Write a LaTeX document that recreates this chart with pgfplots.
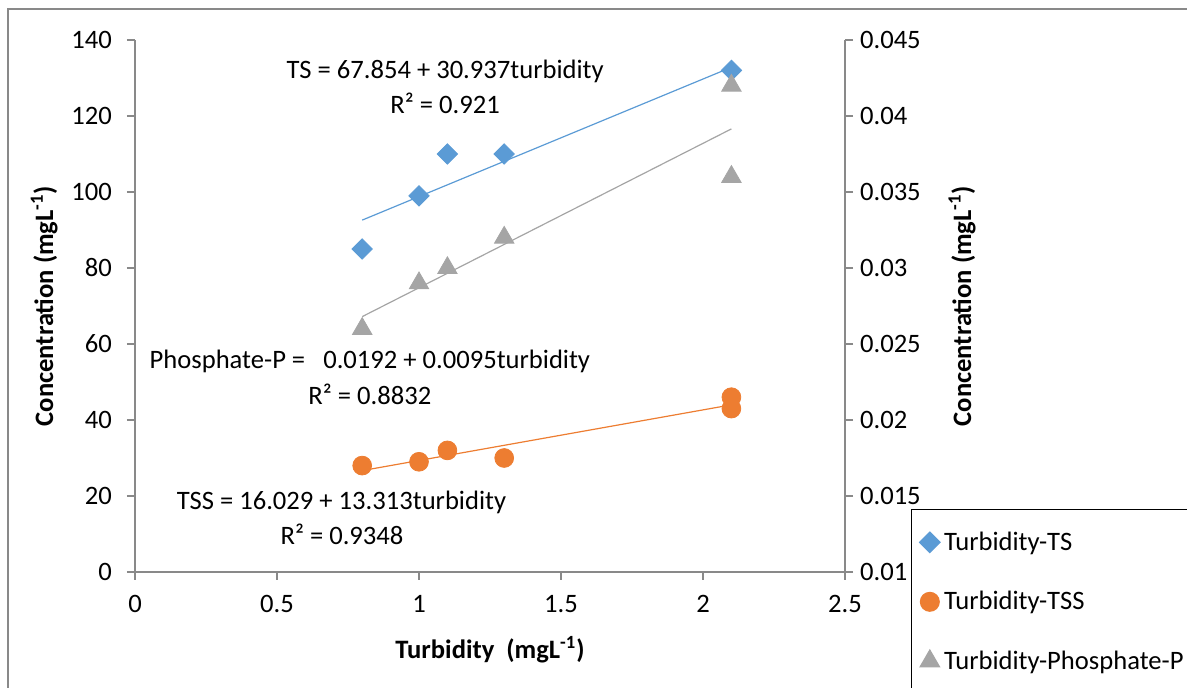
\documentclass[border=0pt]{standalone}
\usepackage{fontspec}
\setmainfont{Carlito}
\usepackage{pgfplots}
\pgfplotsset{compat=1.18}
\definecolor{tsblue}{HTML}{5B9BD5}
\definecolor{tssorange}{HTML}{ED7D31}
\definecolor{phgray}{HTML}{A5A5A5}
\definecolor{axgray}{HTML}{898989}
\newcommand{\fs}{\fontsize{13.3}{16}\selectfont}
\begin{document}
\begin{tikzpicture}
\draw[axgray, line width=0.6pt] (4pt,-30pt) rectangle (640pt,339.5pt);
\pgfplotsset{
  common/.style={
    scale only axis, width=355pt, height=266pt,
    at={(67.5pt,58pt)}, anchor=south west,
    xmin=0, xmax=2.5,
    tick align=outside, major tick length=4pt,
    every tick/.style={axgray, line width=0.6pt},
    axis line style={axgray, line width=0.6pt},
    tick label style={font=\fs, black},
    label style={font=\fs\bfseries},
    /pgf/number format/assume math mode=true,
  }
}
\begin{axis}[common,
  axis x line*=bottom, axis y line*=left,
  ymin=0, ymax=140, ytick={0,20,...,140},
  xtick={0,0.5,1,1.5,2,2.5},
  xlabel={Turbidity\ \ (mgL\textsuperscript{-1})},
  ylabel={Concentration (mgL\textsuperscript{-1})},
  xlabel style={yshift=-5pt},
  ylabel style={yshift=0pt},
  xticklabel style={yshift=-4pt},
  yticklabel style={xshift=-4pt},
]
\addplot[only marks, mark=square*, mark options={rotate=45, fill=tsblue, draw=tsblue}, mark size=3.6pt]
  coordinates {(0.8,85) (1.0,99) (1.1,110) (1.3,110) (2.1,132)};
\addplot[tsblue, line width=0.6pt, no marks] coordinates {(0.8,92.60) (2.1,132.82)};
\addplot[only marks, mark=*, mark options={fill=tssorange, draw=tssorange}, mark size=4.7pt]
  coordinates {(0.8,28) (1.0,29) (1.1,32) (1.3,30) (2.1,46) (2.1,43)};
\addplot[tssorange, line width=0.6pt, no marks] coordinates {(0.8,26.68) (2.1,43.99)};
\node[font=\fs] at (axis cs:1.092,131.6) {TS = 67.854 + 30.937turbidity};
\node[font=\fs] at (axis cs:1.092,123.2) {R² = 0.921};
\node[font=\fs] at (axis cs:0.827,55.3) {Phosphate-P =\ \ \ 0.0192 + 0.0095turbidity};
\node[font=\fs] at (axis cs:0.827,46.8) {R² = 0.8832};
\node[font=\fs] at (axis cs:0.727,18.4) {TSS = 16.029 + 13.313turbidity};
\node[font=\fs] at (axis cs:0.729,10.0) {R² = 0.9348};
\end{axis}
\begin{axis}[common,
  axis x line=none, axis y line*=right,
  ymin=0.01, ymax=0.045, ytick={0.01,0.015,...,0.046},
  scaled y ticks=false,
  yticklabel style={/pgf/number format/.cd, fixed, precision=3, /tikz/.cd, xshift=0pt},
  ylabel={Concentration (mgL\textsuperscript{-1})},
  ylabel style={yshift=-7pt},
  legend style={at={(1.093,0.1184)}, anchor=north west, draw=black, line width=0.6pt,
    font=\fs, row sep=15pt, inner xsep=4pt, inner ysep=9pt},
  legend cell align=left,
]
\addlegendimage{only marks, mark=square*, mark options={rotate=45, fill=tsblue, draw=tsblue}, mark size=3.6pt}
\addlegendentry{Turbidity-TS}
\addlegendimage{only marks, mark=*, mark options={fill=tssorange, draw=tssorange}, mark size=4.7pt}
\addlegendentry{Turbidity-TSS}
\addplot[only marks, mark=triangle*, mark options={fill=phgray, draw=phgray}, mark size=5.6pt]
  coordinates {(0.8,0.026) (1.0,0.029) (1.1,0.030) (1.3,0.032) (2.1,0.042) (2.1,0.036)};
\addlegendentry{Turbidity-Phosphate-P}
\addplot[phgray, line width=0.6pt, no marks, forget plot] coordinates {(0.8,0.0268) (2.1,0.03915)};
\end{axis}
\pgfresetboundingbox
\path[use as bounding box] (0,0) rectangle (593.5pt,344pt);
\end{tikzpicture}
\end{document}
